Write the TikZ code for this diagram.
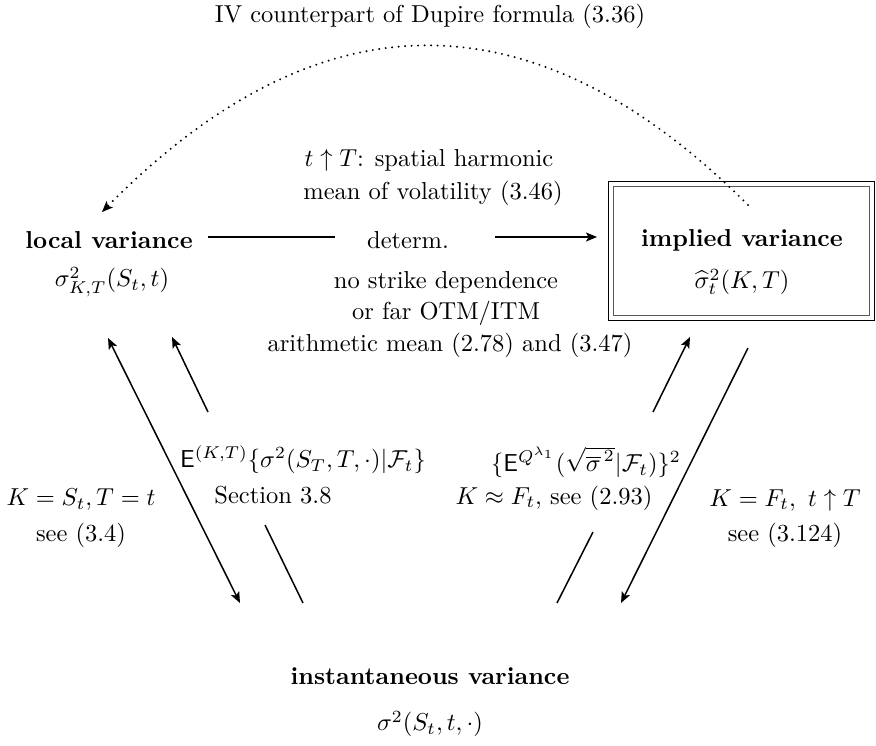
\documentclass[tikz,border=0pt]{standalone}
\usepackage{amsmath,amssymb}
\usetikzlibrary{arrows.meta}
\begin{document}
\begin{tikzpicture}[x=1pt,y=-1pt,
  lbl/.style={scale=2.45, inner sep=0pt, align=center},
  ln/.style={line width=1.5pt},
  arr/.style={line width=1.5pt, -{Stealth[length=11pt,width=9pt,inset=2.5pt]}},
  dots/.style={line width=2.2pt, line cap=round, dash pattern=on 0pt off 6.5pt}]
\useasboundingbox (0,0) rectangle (876,745);
% texts
\node[lbl] (top) at (430,16) {IV counterpart of Dupire formula (3.36)};
\node[lbl] (h1) at (429,160) {$t\uparrow T$: spatial harmonic};
\node[lbl] (h2) at (433,193) {mean of volatility (3.46)};
\node[lbl] (loc) at (109,240) {\textbf{local variance}};
\node[lbl] (locs) at (112,282) {$\sigma^2_{K,T}(S_t,t)$};
\node[lbl] (det) at (408,240) {determ.};
\node[lbl] (imp) at (742,240) {\textbf{implied variance}};
\node[lbl] (imps) at (742,282) {$\widehat{\sigma}^2_t(K,T)$};
\node[lbl] (m1) at (446,282) {no strike dependence};
\node[lbl] (m2) at (446,313) {or far OTM/ITM};
\node[lbl] (m3) at (450,345) {arithmetic mean (2.78) and (3.47)};
\node[lbl] (eK) at (303,460) {$\mathsf{E}^{(K,T)}\{\sigma^2(S_T,T,\cdot)|\mathcal{F}_t\}$};
\node[lbl] (sec) at (273,495) {Section 3.8};
\node[lbl] (eQ) at (586,462) {$\{\mathsf{E}^{Q^{\lambda_1}}(\sqrt{\overline{\sigma}^{\,2}}|\mathcal{F}_t)\}^2$};
\node[lbl] (kf) at (554,498) {$K\approx F_t$, see (2.93)};
\node[lbl] (ks1) at (81,500) {$K=S_t, T=t$};
\node[lbl] (ks2) at (81,535) {see (3.4)};
\node[lbl] (kr1) at (785,500) {$K=F_t,\ t\uparrow T$};
\node[lbl] (kr2) at (785,535) {see (3.124)};
\node[lbl] (ins) at (430,676) {\textbf{instantaneous variance}};
\node[lbl] (inss) at (430,724) {$\sigma^2(S_t,t,\cdot)$};
% double frame
\coordinate (bo1) at (608,181);
\coordinate (bo2) at (874,320);
\coordinate (bi1) at (613,186);
\coordinate (bi2) at (869,315);
\draw[line width=0.8pt] (bo1) rectangle (bo2);
\draw[draw=black!65, line width=1pt] (bi1) rectangle (bi2);
% connector points
\coordinate (hA) at (208,237);
\coordinate (hB) at (335,237);
\coordinate (hC) at (495,237);
\coordinate (hD) at (597,237);
\coordinate (cS) at (748,205);
\coordinate (cE) at (102,212);
\coordinate (cT) at (106,208);
\coordinate (L1a) at (108,338);
\coordinate (L1b) at (240,603);
\coordinate (L2a) at (303,603);
\coordinate (L2b) at (265,525);
\coordinate (L2c) at (208,412);
\coordinate (L2d) at (172,337);
\coordinate (R2a) at (557,603);
\coordinate (R2b) at (593,532);
\coordinate (R2c) at (653,412);
\coordinate (R2d) at (690,337);
\coordinate (R1a) at (748,348);
\coordinate (R1b) at (621,603);
% connectors
\draw[ln] (hA) -- (hB);
\draw[arr] (hC) -- (hD);
\draw[dots] (cS) .. controls (534,-9) and (316,-9) .. (cE);
\draw[line width=1.2pt, -{Stealth[length=11pt,width=9pt,inset=2.5pt]}] (cT) -- (cE);
\draw[ln, {Stealth[length=11pt,width=9pt,inset=2.5pt]}-{Stealth[length=11pt,width=9pt,inset=2.5pt]}] (L1a) -- (L1b);
\draw[ln] (L2a) -- (L2b);
\draw[arr] (L2c) -- (L2d);
\draw[ln] (R2a) -- (R2b);
\draw[arr] (R2c) -- (R2d);
\draw[arr] (R1a) -- (R1b);
\end{tikzpicture}
\end{document}
